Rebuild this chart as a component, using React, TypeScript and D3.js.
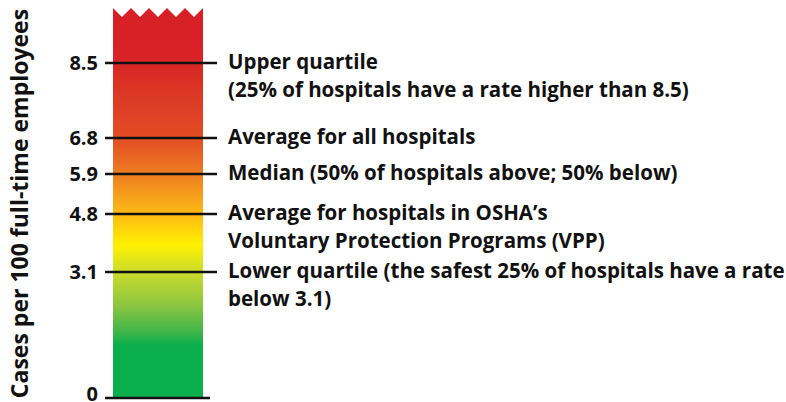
import React from 'react';
import * as d3 from 'd3';

// benchmark values (cases per 100 FTE)
const ticks = [0, 3.1, 4.8, 5.9, 6.8, 8.5];
const tickLabels = ['0', '3.1', '4.8', '5.9', '6.8', '8.5'];

const markerValues = [8.5, 6.8, 5.9, 4.8, 3.1];
const markerText = [
  ['Upper quartile', '(25% of hospitals have a rate higher than 8.5)'],
  ['Average for all hospitals'],
  ['Median (50% of hospitals above; 50% below)'],
  ['Average for hospitals in OSHA\u2019s', 'Voluntary Protection Programs (VPP)'],
  ['Lower quartile (the safest 25% of hospitals have a rate', 'below 3.1)'],
];

const gradientStops = [
  { v: 10.2, c: '#d71f26' },
  { v: 8.7, c: '#d82226' },
  { v: 7.7, c: '#dc3a25' },
  { v: 6.8, c: '#e24d24' },
  { v: 5.9, c: '#ee7c21' },
  { v: 5.3, c: '#f6a01b' },
  { v: 4.8, c: '#fdb913' },
  { v: 4.3, c: '#ffd80a' },
  { v: 3.9, c: '#fff100' },
  { v: 3.1, c: '#cadc2c' },
  { v: 2.3, c: '#8ec641' },
  { v: 1.6, c: '#3cb44a' },
  { v: 1.3, c: '#0bae4d' },
  { v: 0, c: '#0bae4d' },
];

const width = 786;
const height = 402;
const barLeft = 113;
const barRight = 203;
const teeth = 5;
const font = '"Open Sans", Lato, sans-serif';

// the bar is schematic, so the scale is piecewise
const y = d3
  .scaleLinear()
  .domain([0, 3.1, 4.8, 5.9, 6.8, 8.5, 10.2])
  .range([398, 272, 214, 174, 138, 63, 8]);

const App = () => {
  const top = y(10.2);
  const toothW = (barRight - barLeft) / teeth;
  const pts: [number, number][] = [[barLeft, y(0)]];
  d3.range(teeth + 1).forEach((i) => {
    pts.push([barLeft + i * toothW, top]);
    if (i < teeth) pts.push([barLeft + i * toothW + toothW / 2, top + 9]);
  });
  pts.push([barRight, y(0)]);
  const barPath = d3.line().curve(d3.curveLinearClosed)(pts) as string;

  return (
    <svg
      width={width}
      height={height}
      style={{ position: 'absolute', left: 0, top: 0, background: '#fff' }}
    >
      <defs>
        <linearGradient
          id="riskGrad"
          gradientUnits="userSpaceOnUse"
          x1={0}
          x2={0}
          y1={y(10.2)}
          y2={y(0)}
        >
          {gradientStops.map((s, i) => (
            <stop
              key={i}
              offset={(y(s.v) - y(10.2)) / (y(0) - y(10.2))}
              stopColor={s.c}
            />
          ))}
        </linearGradient>
      </defs>

      <path d={barPath} fill="url(#riskGrad)" />

      {ticks.map((t, i) => (
        <g key={t}>
          <line
            x1={105}
            x2={t === 0 ? 210 : 217}
            y1={y(t)}
            y2={y(t)}
            stroke="#111"
            strokeWidth={2.5}
          />
          <text
            x={98}
            y={y(t) + (t === 0 ? 3 : 7)}
            textAnchor="end"
            fontFamily={font}
            fontWeight={700}
            fontSize={20}
            fill="#111"
          >
            {tickLabels[i]}
          </text>
        </g>
      ))}

      {markerValues.map((v, i) => (
        <text
          key={v}
          x={228}
          y={y(v) + 6}
          fontFamily={font}
          fontWeight={700}
          fontSize={20.5}
          fill="#111"
        >
          {markerText[i].map((line, j) => (
            <tspan key={j} x={228} dy={j === 0 ? 0 : 28}>
              {line}
            </tspan>
          ))}
        </text>
      ))}

      <text
        transform={`translate(28,${(10 + 397) / 2}) rotate(-90)`}
        textAnchor="middle"
        fontFamily={font}
        fontWeight={700}
        fontSize={23}
        fill="#111"
      >
        Cases per 100 full-time employees
      </text>
    </svg>
  );
};

export default App;
